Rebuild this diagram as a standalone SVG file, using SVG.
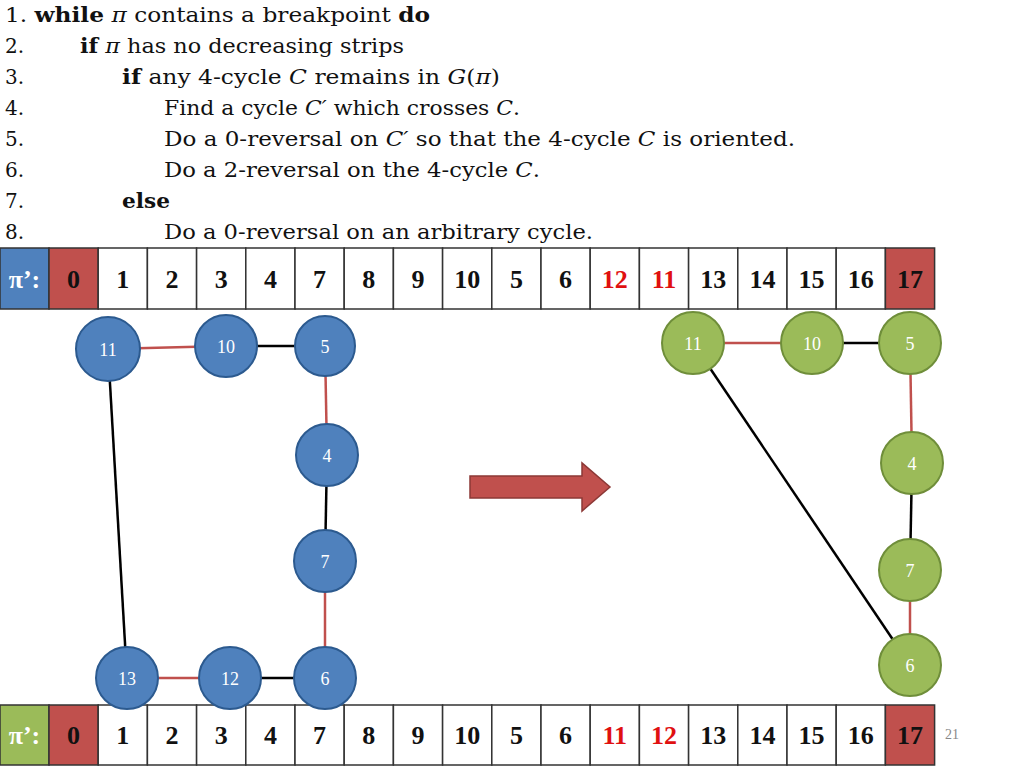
<svg xmlns="http://www.w3.org/2000/svg" width="1024" height="768" viewBox="0 0 1024 768">
<style>
.alg{font-family:"DejaVu Serif","Liberation Serif",serif;font-size:20px;fill:#111}
.b{font-weight:bold}
.cell{fill:#fff;stroke:#333;stroke-width:1.5}
.ct{font-family:"Liberation Serif",serif;font-size:26px;font-weight:bold;text-anchor:middle;fill:#111}
.red{fill:#e01010}
.nb{fill:#4f81bd;stroke:#2c5a8f;stroke-width:2}
.ng{fill:#9bbb59;stroke:#6f8e3a;stroke-width:2}
.nt{font-family:"Liberation Serif",serif;font-size:18px;fill:#fff;text-anchor:middle}
.er{stroke:#c0504d;stroke-width:2.5}
.ek{stroke:#000;stroke-width:2.5}
</style>
<g id="algorithm">
<text class="alg" x="5" y="22" textLength="425" lengthAdjust="spacingAndGlyphs">1. <tspan class="b">while</tspan> <tspan font-style="italic">π</tspan> contains a breakpoint <tspan class="b">do</tspan></text>
<text class="alg" x="5" y="53">2.</text><text class="alg" x="80" y="53" textLength="324" lengthAdjust="spacingAndGlyphs"><tspan class="b">if</tspan> <tspan font-style="italic">π</tspan> has no decreasing strips</text>
<text class="alg" x="5" y="84">3.</text><text class="alg" x="122" y="84" textLength="378" lengthAdjust="spacingAndGlyphs"><tspan class="b">if</tspan> any 4-cycle <tspan font-style="italic">C</tspan> remains in <tspan font-style="italic">G</tspan>(<tspan font-style="italic">π</tspan>)</text>
<text class="alg" x="5" y="115">4.</text><text class="alg" x="164" y="115" textLength="356" lengthAdjust="spacingAndGlyphs">Find a cycle <tspan font-style="italic">C′</tspan> which crosses <tspan font-style="italic">C</tspan>.</text>
<text class="alg" x="5" y="146">5.</text><text class="alg" x="164" y="146" textLength="631" lengthAdjust="spacingAndGlyphs">Do a 0-reversal on <tspan font-style="italic">C′</tspan> so that the 4-cycle <tspan font-style="italic">C</tspan> is oriented.</text>
<text class="alg" x="5" y="177">6.</text><text class="alg" x="164" y="177" textLength="376" lengthAdjust="spacingAndGlyphs">Do a 2-reversal on the 4-cycle <tspan font-style="italic">C</tspan>.</text>
<text class="alg" x="5" y="208">7.</text><text class="alg" x="122" y="208" font-weight="bold" textLength="48" lengthAdjust="spacingAndGlyphs">else</text>
<text class="alg" x="5" y="239">8.</text><text class="alg" x="164" y="239" textLength="429" lengthAdjust="spacingAndGlyphs">Do a 0-reversal on an arbitrary cycle.</text>
</g>
<g id="table-top">
<rect x="0" y="248" width="49" height="61" fill="#4f81bd" stroke="#333" stroke-width="1.5"/>
<text class="ct" x="24.5" y="288" style="fill:#fff">π’:</text>
<rect x="49" y="248" width="49.2" height="61" fill="#c0504d" stroke="#333" stroke-width="1.5"/><text class="ct" x="73.6" y="288">0</text>
<rect class="cell" x="98.2" y="248" width="49.2" height="61"/><text class="ct" x="122.8" y="288">1</text>
<rect class="cell" x="147.4" y="248" width="49.2" height="61"/><text class="ct" x="172" y="288">2</text>
<rect class="cell" x="196.6" y="248" width="49.2" height="61"/><text class="ct" x="221.2" y="288">3</text>
<rect class="cell" x="245.8" y="248" width="49.2" height="61"/><text class="ct" x="270.4" y="288">4</text>
<rect class="cell" x="295" y="248" width="49.2" height="61"/><text class="ct" x="319.6" y="288">7</text>
<rect class="cell" x="344.2" y="248" width="49.2" height="61"/><text class="ct" x="368.8" y="288">8</text>
<rect class="cell" x="393.4" y="248" width="49.2" height="61"/><text class="ct" x="418" y="288">9</text>
<rect class="cell" x="442.6" y="248" width="49.2" height="61"/><text class="ct" x="467.2" y="288">10</text>
<rect class="cell" x="491.8" y="248" width="49.2" height="61"/><text class="ct" x="516.4" y="288">5</text>
<rect class="cell" x="541" y="248" width="49.2" height="61"/><text class="ct" x="565.6" y="288">6</text>
<rect class="cell" x="590.2" y="248" width="49.2" height="61"/><text class="ct red" x="614.8" y="288">12</text>
<rect class="cell" x="639.4" y="248" width="49.2" height="61"/><text class="ct red" x="664" y="288">11</text>
<rect class="cell" x="688.6" y="248" width="49.2" height="61"/><text class="ct" x="713.2" y="288">13</text>
<rect class="cell" x="737.8" y="248" width="49.2" height="61"/><text class="ct" x="762.4" y="288">14</text>
<rect class="cell" x="787" y="248" width="49.2" height="61"/><text class="ct" x="811.6" y="288">15</text>
<rect class="cell" x="836.2" y="248" width="49.2" height="61"/><text class="ct" x="860.8" y="288">16</text>
<rect x="885.4" y="248" width="49.2" height="61" fill="#c0504d" stroke="#333" stroke-width="1.5"/><text class="ct" x="910" y="288">17</text>
</g>
<g id="table-bottom">
<rect x="0" y="705" width="49" height="60" fill="#9bbb59" stroke="#333" stroke-width="1.5"/>
<text class="ct" x="24.5" y="744" style="fill:#fff">π’:</text>
<rect x="49" y="705" width="49.2" height="60" fill="#c0504d" stroke="#333" stroke-width="1.5"/><text class="ct" x="73.6" y="744">0</text>
<rect class="cell" x="98.2" y="705" width="49.2" height="60"/><text class="ct" x="122.8" y="744">1</text>
<rect class="cell" x="147.4" y="705" width="49.2" height="60"/><text class="ct" x="172" y="744">2</text>
<rect class="cell" x="196.6" y="705" width="49.2" height="60"/><text class="ct" x="221.2" y="744">3</text>
<rect class="cell" x="245.8" y="705" width="49.2" height="60"/><text class="ct" x="270.4" y="744">4</text>
<rect class="cell" x="295" y="705" width="49.2" height="60"/><text class="ct" x="319.6" y="744">7</text>
<rect class="cell" x="344.2" y="705" width="49.2" height="60"/><text class="ct" x="368.8" y="744">8</text>
<rect class="cell" x="393.4" y="705" width="49.2" height="60"/><text class="ct" x="418" y="744">9</text>
<rect class="cell" x="442.6" y="705" width="49.2" height="60"/><text class="ct" x="467.2" y="744">10</text>
<rect class="cell" x="491.8" y="705" width="49.2" height="60"/><text class="ct" x="516.4" y="744">5</text>
<rect class="cell" x="541" y="705" width="49.2" height="60"/><text class="ct" x="565.6" y="744">6</text>
<rect class="cell" x="590.2" y="705" width="49.2" height="60"/><text class="ct red" x="614.8" y="744">11</text>
<rect class="cell" x="639.4" y="705" width="49.2" height="60"/><text class="ct red" x="664" y="744">12</text>
<rect class="cell" x="688.6" y="705" width="49.2" height="60"/><text class="ct" x="713.2" y="744">13</text>
<rect class="cell" x="737.8" y="705" width="49.2" height="60"/><text class="ct" x="762.4" y="744">14</text>
<rect class="cell" x="787" y="705" width="49.2" height="60"/><text class="ct" x="811.6" y="744">15</text>
<rect class="cell" x="836.2" y="705" width="49.2" height="60"/><text class="ct" x="860.8" y="744">16</text>
<rect x="885.4" y="705" width="49.2" height="60" fill="#c0504d" stroke="#333" stroke-width="1.5"/><text class="ct" x="910" y="744">17</text>
</g>
<text x="945" y="739" font-family="Liberation Serif,serif" font-size="14" fill="#888">21</text>
<g id="connectors">
<line class="er" x1="108" y1="349" x2="226" y2="346"/>
<line class="ek" x1="226" y1="346" x2="325" y2="346"/>
<line class="er" x1="325" y1="346" x2="327" y2="455"/>
<line class="ek" x1="327" y1="455" x2="325" y2="561"/>
<line class="er" x1="325" y1="561" x2="325" y2="678"/>
<line class="ek" x1="325" y1="678" x2="230" y2="678"/>
<line class="er" x1="230" y1="678" x2="127" y2="678"/>
<line class="ek" x1="127" y1="678" x2="108" y2="349"/>
<line class="er" x1="693" y1="343" x2="812" y2="343"/>
<line class="ek" x1="812" y1="343" x2="910" y2="343"/>
<line class="er" x1="910" y1="343" x2="912" y2="463"/>
<line class="ek" x1="912" y1="463" x2="910" y2="570"/>
<line class="er" x1="910" y1="570" x2="910" y2="665"/>
<line class="ek" x1="693" y1="343" x2="910" y2="665"/>
<polygon points="470,476 582,476 582,463 610,487 582,511 582,498 470,498" fill="#c0504d" stroke="#8c3836" stroke-width="1.5"/>
</g>
<g id="n11"><circle class="nb" cx="108" cy="349" r="32"/><text class="nt" x="108" y="356">11</text></g>
<g id="n10"><circle class="nb" cx="226" cy="346" r="31"/><text class="nt" x="226" y="353">10</text></g>
<g id="n5"><circle class="nb" cx="325" cy="346" r="30"/><text class="nt" x="325" y="353">5</text></g>
<g id="n4"><circle class="nb" cx="327" cy="455" r="31"/><text class="nt" x="327" y="462">4</text></g>
<g id="n7"><circle class="nb" cx="325" cy="561" r="31"/><text class="nt" x="325" y="568">7</text></g>
<g id="n13"><circle class="nb" cx="127" cy="678" r="31"/><text class="nt" x="127" y="685">13</text></g>
<g id="n12"><circle class="nb" cx="230" cy="678" r="31"/><text class="nt" x="230" y="685">12</text></g>
<g id="n6"><circle class="nb" cx="325" cy="678" r="31"/><text class="nt" x="325" y="685">6</text></g>
<g id="r11"><circle class="ng" cx="693" cy="343" r="31"/><text class="nt" x="693" y="350">11</text></g>
<g id="r10"><circle class="ng" cx="812" cy="343" r="31"/><text class="nt" x="812" y="350">10</text></g>
<g id="r5"><circle class="ng" cx="910" cy="343" r="31"/><text class="nt" x="910" y="350">5</text></g>
<g id="r4"><circle class="ng" cx="912" cy="463" r="31"/><text class="nt" x="912" y="470">4</text></g>
<g id="r7"><circle class="ng" cx="910" cy="570" r="31"/><text class="nt" x="910" y="577">7</text></g>
<g id="r6"><circle class="ng" cx="910" cy="665" r="31"/><text class="nt" x="910" y="672">6</text></g>
</svg>
